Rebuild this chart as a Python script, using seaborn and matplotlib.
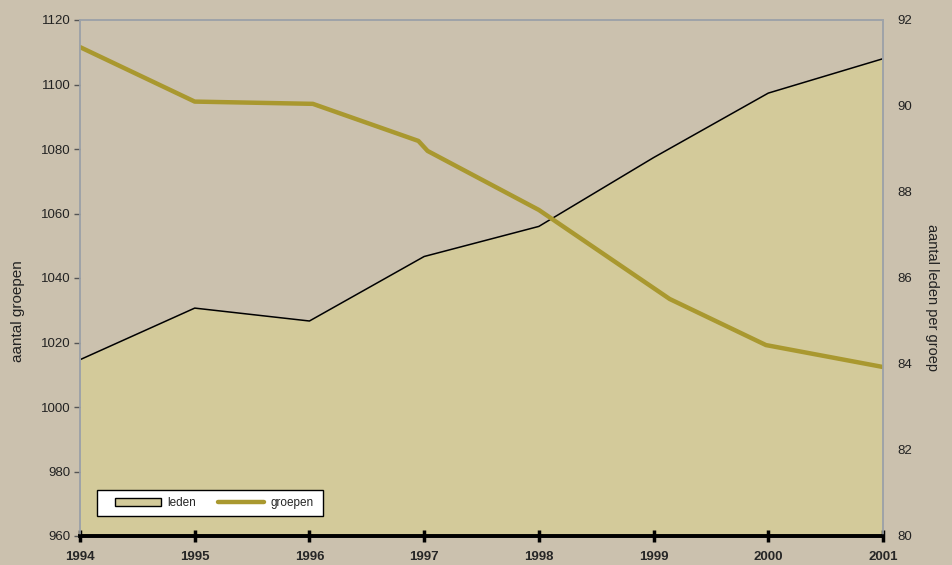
import matplotlib
matplotlib.use("Agg")
import matplotlib.pyplot as plt
import seaborn as sns
import pandas as pd
from matplotlib.patches import Patch, Rectangle
from matplotlib.lines import Line2D

# --- data ---
leden_jaar = [1994, 1995, 1996, 1997, 1998, 1999, 2000, 2001]
leden_per_groep = [84.1, 85.3, 85.0, 86.5, 87.2, 88.8, 90.3, 91.1]

groepen_jaar = [1994.0, 1995.0, 1996.03, 1996.95, 1997.03, 1998.0, 1999.14, 1999.98, 2001.0]
groepen_aantal = [1111.6, 1094.7, 1094.0, 1082.5, 1079.4, 1061.1, 1033.5, 1019.2, 1012.4]

jaar_ticks = [1994, 1995, 1996, 1997, 1998, 1999, 2000, 2001]
links_ticks = list(range(960, 1121, 20))
rechts_ticks = list(range(80, 93, 2))

sns.set_style("white")
plt.rcParams["font.family"] = ["Liberation Sans", "DejaVu Sans"]

BG = "#CBC1AE"
AREA = "#D3CA9A"
LINE = "#A9982F"

fig = plt.figure(figsize=(9.52, 5.65), dpi=100, facecolor=BG)
ax = fig.add_axes([80 / 952, 29 / 565, (883 - 80) / 952, (536 - 20) / 565])
ax2 = ax.twinx()

# right axis: area (leden per groep), drawn behind
ax2.set_facecolor(BG)
df_l = pd.DataFrame({"jaar": leden_jaar, "leden": leden_per_groep})
ax2.fill_between(df_l["jaar"], df_l["leden"], 80, color=AREA, linewidth=0)
sns.lineplot(data=df_l, x="jaar", y="leden", ax=ax2, color="black", linewidth=1.1)
ax2.set_ylim(80, 92)
ax2.set_yticks(rechts_ticks)
ax2.set_yticklabels([str(t) for t in rechts_ticks], fontsize=9.5)
ax2.tick_params(axis="y", right=False, length=0, pad=10, colors="#222222")
ax2.tick_params(axis="x", bottom=False)
ax2.set_ylabel("aantal leden per groep", rotation=270, fontsize=10.5,
               color="#222222", va="center", ha="center")
ax2.yaxis.set_label_coords((932 - 80) / 803, (536 - 297) / 516)

# left axis: line (groepen), on top
ax.set_zorder(ax2.get_zorder() + 1)
ax.patch.set_visible(False)
df_g = pd.DataFrame({"jaar": groepen_jaar, "groepen": groepen_aantal})
sns.lineplot(data=df_g, x="jaar", y="groepen", ax=ax, color=LINE, linewidth=3.2)
ax.set_ylim(960, 1120)
ax.set_xlim(1994, 2001)
ax.set_yticks(links_ticks)
ax.set_yticklabels([str(t) for t in links_ticks], fontsize=9.5)
ax.tick_params(axis="y", left=True, length=4, width=1, color="#555555", pad=3,
               labelcolor="#222222")
ax.set_ylabel("aantal groepen", fontsize=11, color="#222222", va="center", ha="center")
ax.yaxis.set_label_coords((18 - 80) / 803, (536 - 311) / 516)
ax.set_xticks(jaar_ticks)
ax.set_xticklabels([str(t) for t in jaar_ticks], fontsize=9.5, fontweight="bold")
ax.tick_params(axis="x", bottom=True, direction="inout", length=9, width=2.5,
               color="black", pad=6)
ax.set_xlabel("")

for a in (ax, ax2):
    for s in ("top", "right", "left"):
        a.spines[s].set_color("#9EA3A8")
        a.spines[s].set_linewidth(1.2)
    a.spines["bottom"].set_color("black")
    a.spines["bottom"].set_linewidth(2.6)
ax2.set_xlabel("")

# legend box
box = Rectangle(((97 - 80) / 803, (536 - 516) / 516), (323 - 97) / 803, 26 / 516,
                transform=ax.transAxes, facecolor="white", edgecolor="black",
                linewidth=1.0, zorder=5)
ax.add_patch(box)
handles = [Patch(facecolor=AREA, edgecolor="black", linewidth=1.0),
           Line2D([0], [0], color=LINE, linewidth=3.2)]
leg = ax.legend(handles, ["leden", "groepen"], loc="center left",
                bbox_to_anchor=((115 - 80) / 803, (536 - 503) / 516),
                ncol=2, frameon=False, fontsize=8.5,
                handlelength=3.9, handleheight=0.6, handletextpad=0.5,
                columnspacing=1.9, borderpad=0, borderaxespad=0)
leg.set_zorder(6)

fig.savefig("out.png", dpi=100, facecolor=BG)
